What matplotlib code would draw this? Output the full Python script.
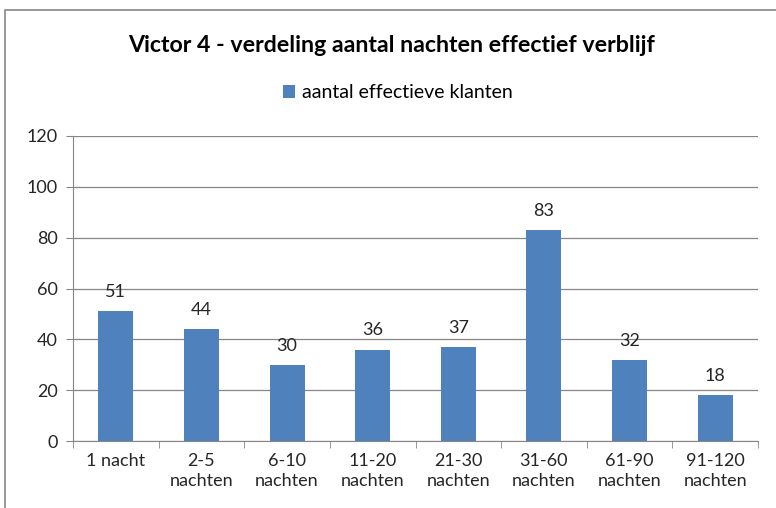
import numpy as np
import matplotlib.pyplot as plt
from matplotlib.patches import Rectangle

# gegevens
categorieen = ["1 nacht", "2-5\nnachten", "6-10\nnachten", "11-20\nnachten",
               "21-30\nnachten", "31-60\nnachten", "61-90\nnachten", "91-120\nnachten"]
klanten = [51, 44, 30, 36, 37, 83, 32, 18]
y_ticks = [0, 20, 40, 60, 80, 100, 120]

plt.rcParams['font.family'] = ['Lato', 'DejaVu Sans']

fig = plt.figure(figsize=(7.76, 5.08), dpi=100)
# rand rond de grafiek
fig.patches.append(Rectangle((5 / 776, -0.1), 1.0, 1 - 10 / 508 + 0.1,
                             transform=fig.transFigure, fill=False,
                             edgecolor='#868686', linewidth=1.2))

ax = fig.add_axes([73 / 776, 1 - 441 / 508, 685 / 776, 305 / 508])
x = np.arange(len(klanten))
bars = ax.bar(x, klanten, width=0.41, color='#4F81BD', zorder=3,
              label='aantal effectieve klanten')

for xi, v in zip(x, klanten):
    ax.annotate(str(v), (xi, v), xytext=(0, 8), textcoords='offset points',
                ha='center', va='bottom', fontsize=13, color='#262626')

ax.set_xlim(-0.5, len(klanten) - 0.5)
ax.set_ylim(0, 120)
ax.set_yticks(y_ticks)
ax.yaxis.grid(True, color='#868686', linewidth=0.9, zorder=0)
ax.set_xticks(x)
ax.set_xticklabels(categorieen, fontsize=13, color='#262626', linespacing=1.25)
ax.set_xticks(np.arange(len(klanten) + 1) - 0.5, minor=True)
ax.tick_params(axis='x', which='major', length=0, pad=9)
ax.tick_params(axis='x', which='minor', length=5, color='#868686')
ax.tick_params(axis='y', length=5, color='#868686', labelsize=13,
               labelcolor='#262626', pad=6)
for s in ['top', 'right']:
    ax.spines[s].set_visible(False)
ax.spines['left'].set_color('#868686')
ax.spines['bottom'].set_color('#868686')

fig.text(0.505, 1 - 45 / 508, 'Victor 4 - verdeling aantal nachten effectief verblijf',
         ha='center', va='center', fontsize=16.7, fontweight='bold', color='black')
fig.legend(handles=[bars], loc='center', bbox_to_anchor=(0.513, 1 - 93 / 508),
           frameon=False, fontsize=14, handlelength=0.6, handleheight=0.6,
           handletextpad=0.35)

fig.savefig('out.png', dpi=100)
